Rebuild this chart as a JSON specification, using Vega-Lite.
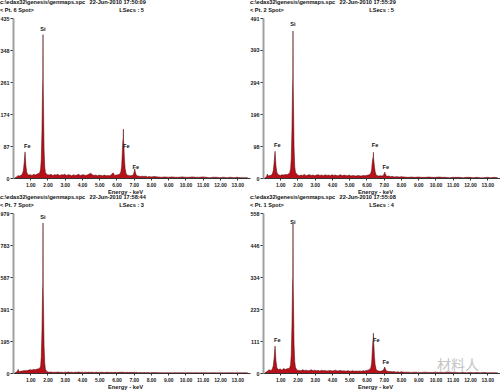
{
  "$schema": "https://vega.github.io/schema/vega-lite/v6.json",
  "padding": 0,
  "spacing": 0,
  "background": "white",
  "config": {
    "view": {"stroke": null},
    "font": "Liberation Sans",
    "title": {"font": "Liberation Sans", "fontSize": 5.6, "fontWeight": "bold", "color": "#111", "subtitleFont": "Liberation Sans", "subtitleFontSize": 5.6, "subtitleFontWeight": "bold", "subtitleColor": "#111", "subtitlePadding": 2.4, "anchor": "start", "frame": "bounds", "offset": 2},
    "axis": {"labelFont": "Liberation Sans", "labelFontWeight": "bold", "labelColor": "#222", "titleFont": "Liberation Sans", "titleFontWeight": "bold", "titleColor": "#222", "grid": false, "labelOverlap": false, "tickCount": 30},
    "axisX": {"format": ".2f", "labelFontSize": 5, "tickSize": 2, "tickColor": "#333", "domainColor": "#333", "domainWidth": 1, "labelPadding": 2, "titleFontSize": 5.8, "titlePadding": 1.5, "titleX": 112, "labelFlush": false},
    "axisY": {"labelFontSize": 5.4, "tickSize": 3, "tickColor": "#333", "domainColor": "#a0a0a0", "domainWidth": 2, "labelPadding": 1, "minExtent": 13, "maxExtent": 13, "title": null}
  },
  "datasets": {
    "s": [
      {"e":0.10,"p1":0,"p2":0,"p3":0,"p4":0},
      {"e":0.20,"p1":3,"p2":4,"p3":6,"p4":4},
      {"e":0.25,"p1":5,"p2":12,"p3":10,"p4":6},
      {"e":0.30,"p1":7,"p2":6,"p3":22,"p4":8},
      {"e":0.35,"p1":5,"p2":7,"p3":8,"p4":12},
      {"e":0.40,"p1":6,"p2":8,"p3":9,"p4":9},
      {"e":0.50,"p1":8,"p2":9,"p3":12,"p4":10},
      {"e":0.55,"p1":12,"p2":14,"p3":13,"p4":16},
      {"e":0.60,"p1":20,"p2":24,"p3":14,"p4":26},
      {"e":0.65,"p1":42,"p2":50,"p3":15,"p4":55},
      {"e":0.68,"p1":62,"p2":72,"p3":14,"p4":82},
      {"e":0.70,"p1":71,"p2":82,"p3":16,"p4":94},
      {"e":0.72,"p1":56,"p2":66,"p3":15,"p4":76},
      {"e":0.75,"p1":32,"p2":38,"p3":14,"p4":44},
      {"e":0.80,"p1":15,"p2":18,"p3":16,"p4":20},
      {"e":0.85,"p1":10,"p2":12,"p3":15,"p4":14},
      {"e":0.90,"p1":8,"p2":10,"p3":18,"p4":12},
      {"e":1.00,"p1":9,"p2":8,"p3":20,"p4":14},
      {"e":1.10,"p1":7,"p2":10,"p3":18,"p4":10},
      {"e":1.20,"p1":10,"p2":9,"p3":22,"p4":16},
      {"e":1.30,"p1":8,"p2":11,"p3":20,"p4":12},
      {"e":1.40,"p1":11,"p2":10,"p3":24,"p4":15},
      {"e":1.50,"p1":12,"p2":13,"p3":26,"p4":16},
      {"e":1.55,"p1":15,"p2":16,"p3":30,"p4":18},
      {"e":1.60,"p1":24,"p2":28,"p3":40,"p4":30},
      {"e":1.64,"p1":50,"p2":60,"p3":100,"p4":65},
      {"e":1.68,"p1":130,"p2":150,"p3":260,"p4":170},
      {"e":1.71,"p1":235,"p2":270,"p3":480,"p4":300},
      {"e":1.73,"p1":272,"p2":308,"p3":547,"p4":340},
      {"e":1.74,"p1":390,"p2":451,"p3":918,"p4":520},
      {"e":1.75,"p1":265,"p2":300,"p3":530,"p4":330},
      {"e":1.77,"p1":190,"p2":220,"p3":400,"p4":240},
      {"e":1.80,"p1":80,"p2":95,"p3":170,"p4":100},
      {"e":1.84,"p1":30,"p2":35,"p3":60,"p4":40},
      {"e":1.88,"p1":15,"p2":18,"p3":22,"p4":20},
      {"e":1.95,"p1":10,"p2":12,"p3":10,"p4":12},
      {"e":2.00,"p1":9,"p2":10,"p3":7,"p4":10},
      {"e":2.10,"p1":8,"p2":7,"p3":5,"p4":9},
      {"e":2.20,"p1":10,"p2":9,"p3":6,"p4":8},
      {"e":2.30,"p1":7,"p2":8,"p3":4,"p4":11},
      {"e":2.40,"p1":9,"p2":11,"p3":5,"p4":9},
      {"e":2.50,"p1":8,"p2":7,"p3":4,"p4":10},
      {"e":2.60,"p1":10,"p2":9,"p3":6,"p4":8},
      {"e":2.70,"p1":7,"p2":10,"p3":4,"p4":9},
      {"e":2.80,"p1":9,"p2":8,"p3":5,"p4":11},
      {"e":2.90,"p1":8,"p2":9,"p3":3,"p4":8},
      {"e":3.00,"p1":10,"p2":7,"p3":5,"p4":10},
      {"e":3.10,"p1":7,"p2":9,"p3":4,"p4":8},
      {"e":3.20,"p1":9,"p2":10,"p3":6,"p4":9},
      {"e":3.30,"p1":8,"p2":8,"p3":4,"p4":7},
      {"e":3.40,"p1":6,"p2":9,"p3":5,"p4":10},
      {"e":3.50,"p1":9,"p2":7,"p3":3,"p4":8},
      {"e":3.60,"p1":7,"p2":10,"p3":5,"p4":9},
      {"e":3.70,"p1":8,"p2":8,"p3":4,"p4":7},
      {"e":3.80,"p1":10,"p2":9,"p3":6,"p4":8},
      {"e":3.90,"p1":7,"p2":7,"p3":4,"p4":9},
      {"e":4.00,"p1":8,"p2":10,"p3":5,"p4":7},
      {"e":4.10,"p1":9,"p2":8,"p3":3,"p4":8},
      {"e":4.20,"p1":7,"p2":9,"p3":5,"p4":10},
      {"e":4.30,"p1":8,"p2":7,"p3":4,"p4":7},
      {"e":4.40,"p1":10,"p2":8,"p3":5,"p4":8},
      {"e":4.50,"p1":13,"p2":10,"p3":4,"p4":9},
      {"e":4.60,"p1":9,"p2":7,"p3":5,"p4":7},
      {"e":4.70,"p1":7,"p2":9,"p3":3,"p4":8},
      {"e":4.80,"p1":8,"p2":8,"p3":5,"p4":6},
      {"e":4.90,"p1":6,"p2":7,"p3":4,"p4":8},
      {"e":5.00,"p1":8,"p2":9,"p3":3,"p4":7},
      {"e":5.10,"p1":7,"p2":6,"p3":5,"p4":6},
      {"e":5.20,"p1":6,"p2":8,"p3":4,"p4":8},
      {"e":5.30,"p1":8,"p2":7,"p3":3,"p4":6},
      {"e":5.40,"p1":6,"p2":6,"p3":4,"p4":7},
      {"e":5.50,"p1":7,"p2":8,"p3":5,"p4":6},
      {"e":5.60,"p1":6,"p2":7,"p3":3,"p4":7},
      {"e":5.70,"p1":9,"p2":6,"p3":4,"p4":6},
      {"e":5.80,"p1":14,"p2":8,"p3":3,"p4":8},
      {"e":5.90,"p1":7,"p2":7,"p3":4,"p4":7},
      {"e":6.00,"p1":8,"p2":8,"p3":3,"p4":9},
      {"e":6.10,"p1":9,"p2":9,"p3":4,"p4":10},
      {"e":6.20,"p1":11,"p2":11,"p3":4,"p4":13},
      {"e":6.25,"p1":16,"p2":15,"p3":5,"p4":18},
      {"e":6.30,"p1":32,"p2":26,"p3":4,"p4":35},
      {"e":6.34,"p1":72,"p2":50,"p3":5,"p4":80},
      {"e":6.37,"p1":102,"p2":62,"p3":4,"p4":112},
      {"e":6.39,"p1":110,"p2":64,"p3":5,"p4":118},
      {"e":6.40,"p1":133,"p2":79,"p3":4,"p4":139},
      {"e":6.41,"p1":102,"p2":60,"p3":5,"p4":110},
      {"e":6.43,"p1":86,"p2":52,"p3":4,"p4":95},
      {"e":6.46,"p1":52,"p2":35,"p3":3,"p4":58},
      {"e":6.50,"p1":26,"p2":20,"p3":4,"p4":30},
      {"e":6.55,"p1":13,"p2":11,"p3":3,"p4":15},
      {"e":6.60,"p1":8,"p2":8,"p3":4,"p4":9},
      {"e":6.70,"p1":7,"p2":6,"p3":3,"p4":7},
      {"e":6.80,"p1":6,"p2":7,"p3":4,"p4":6},
      {"e":6.90,"p1":7,"p2":6,"p3":3,"p4":8},
      {"e":6.98,"p1":9,"p2":8,"p3":4,"p4":10},
      {"e":7.03,"p1":18,"p2":14,"p3":3,"p4":17},
      {"e":7.06,"p1":25,"p2":18,"p3":4,"p4":21},
      {"e":7.09,"p1":16,"p2":12,"p3":3,"p4":15},
      {"e":7.14,"p1":8,"p2":7,"p3":4,"p4":8},
      {"e":7.20,"p1":6,"p2":5,"p3":3,"p4":6},
      {"e":7.30,"p1":5,"p2":6,"p3":2,"p4":5},
      {"e":7.40,"p1":4,"p2":4,"p3":3,"p4":5},
      {"e":7.50,"p1":5,"p2":5,"p3":2,"p4":4},
      {"e":7.60,"p1":4,"p2":3,"p3":3,"p4":5},
      {"e":7.70,"p1":5,"p2":4,"p3":2,"p4":3},
      {"e":7.80,"p1":3,"p2":4,"p3":3,"p4":4},
      {"e":7.90,"p1":4,"p2":3,"p3":2,"p4":3},
      {"e":8.00,"p1":3,"p2":4,"p3":2,"p4":4},
      {"e":8.20,"p1":4,"p2":3,"p3":3,"p4":3},
      {"e":8.40,"p1":3,"p2":2,"p3":2,"p4":3},
      {"e":8.60,"p1":2,"p2":3,"p3":2,"p4":2},
      {"e":8.80,"p1":3,"p2":2,"p3":1,"p4":3},
      {"e":9.00,"p1":2,"p2":3,"p3":2,"p4":2},
      {"e":9.20,"p1":3,"p2":2,"p3":1,"p4":2},
      {"e":9.40,"p1":2,"p2":2,"p3":2,"p4":3},
      {"e":9.60,"p1":2,"p2":3,"p3":1,"p4":2},
      {"e":9.80,"p1":3,"p2":2,"p3":2,"p4":2},
      {"e":10.00,"p1":2,"p2":2,"p3":1,"p4":3},
      {"e":10.20,"p1":2,"p2":3,"p3":2,"p4":2},
      {"e":10.40,"p1":3,"p2":2,"p3":1,"p4":2},
      {"e":10.60,"p1":2,"p2":2,"p3":2,"p4":2},
      {"e":10.80,"p1":2,"p2":1,"p3":1,"p4":3},
      {"e":11.00,"p1":3,"p2":2,"p3":2,"p4":2},
      {"e":11.20,"p1":2,"p2":2,"p3":1,"p4":2},
      {"e":11.40,"p1":1,"p2":2,"p3":1,"p4":1},
      {"e":11.60,"p1":2,"p2":1,"p3":2,"p4":2},
      {"e":11.80,"p1":2,"p2":2,"p3":1,"p4":1},
      {"e":12.00,"p1":1,"p2":2,"p3":1,"p4":2},
      {"e":12.20,"p1":2,"p2":1,"p3":1,"p4":1},
      {"e":12.40,"p1":1,"p2":2,"p3":1,"p4":2},
      {"e":12.60,"p1":2,"p2":1,"p3":2,"p4":1},
      {"e":12.80,"p1":1,"p2":1,"p3":1,"p4":2},
      {"e":13.00,"p1":2,"p2":2,"p3":1,"p4":1},
      {"e":13.20,"p1":1,"p2":1,"p3":1,"p4":1},
      {"e":13.40,"p1":1,"p2":2,"p3":1,"p4":1},
      {"e":13.60,"p1":1,"p2":1,"p3":1,"p4":1}
    ],
    "lab": [
      {"p":1,"e":1.74,"c":405,"t":"Si"},
      {"p":1,"e":0.83,"c":87,"t":"Fe"},
      {"p":1,"e":6.57,"c":87,"t":"Fe"},
      {"p":1,"e":7.12,"c":30,"t":"Fe"},
      {"p":2,"e":1.74,"c":473,"t":"Si"},
      {"p":2,"e":0.83,"c":101,"t":"Fe"},
      {"p":2,"e":6.50,"c":101,"t":"Fe"},
      {"p":2,"e":7.12,"c":34,"t":"Fe"},
      {"p":3,"e":1.74,"c":955,"t":"Si"},
      {"p":4,"e":1.74,"c":527,"t":"Si"},
      {"p":4,"e":0.83,"c":115,"t":"Fe"},
      {"p":4,"e":6.57,"c":115,"t":"Fe"},
      {"p":4,"e":7.12,"c":38,"t":"Fe"}
    ],
    "wm": [{"e":11.3,"c":24,"t":"材料人"}]
  },
  "vconcat": [
    {
      "spacing": 0,
      "hconcat": [
        {
          "width": 237, "height": 160,
          "title": {"text": "c:\\edax32\\genesis\\genmaps.spc \u200222-Jun-2010 17:50:09", "subtitle": "< Pt. 6 Spot>\u2003\u2003\u2003\u2003\u2003\u2003\u2003\u2003\u2003\u2003\u2003\u2003\u2003\u2003\u2003 LSecs : 5"},
          "layer": [
            {"data": {"name": "s"}, "mark": {"type": "area", "color": "#b8101a", "opacity": 1, "line": {"color": "#4a0606", "strokeWidth": 0.5}},
             "encoding": {"x": {"field": "e", "type": "quantitative", "scale": {"domain": [0, 13.74], "nice": false, "zero": false}, "axis": {"title": "Energy - keV", "values": [1,2,3,4,5,6,7,8,9,10,11,12,13], "tickCount": 30}},
                          "y": {"field": "p1", "type": "quantitative", "scale": {"domain": [0, 435], "nice": false}, "axis": {"values": [0, 87, 174, 261, 348, 435], "tickCount": 30}}}},
            {"data": {"name": "lab"}, "transform": [{"filter": "datum.p == 1"}], "mark": {"type": "text", "font": "Liberation Sans", "fontWeight": "bold", "fontSize": 5.6, "color": "#111"},
             "encoding": {"x": {"field": "e", "type": "quantitative"}, "y": {"field": "c", "type": "quantitative"}, "text": {"field": "t"}}}
          ]
        },
        {
          "width": 237, "height": 160,
          "title": {"text": "c:\\edax32\\genesis\\genmaps.spc \u200222-Jun-2010 17:55:29", "subtitle": "< Pt. 2 Spot>\u2003\u2003\u2003\u2003\u2003\u2003\u2003\u2003\u2003\u2003\u2003\u2003\u2003\u2003\u2003 LSecs : 5"},
          "layer": [
            {"data": {"name": "s"}, "mark": {"type": "area", "color": "#b8101a", "opacity": 1, "line": {"color": "#4a0606", "strokeWidth": 0.5}},
             "encoding": {"x": {"field": "e", "type": "quantitative", "scale": {"domain": [0, 13.74], "nice": false, "zero": false}, "axis": {"title": "Energy - keV", "values": [1,2,3,4,5,6,7,8,9,10,11,12,13], "tickCount": 30}},
                          "y": {"field": "p2", "type": "quantitative", "scale": {"domain": [0, 491], "nice": false}, "axis": {"values": [0, 98, 196, 294, 393, 491], "tickCount": 30}}}},
            {"data": {"name": "lab"}, "transform": [{"filter": "datum.p == 2"}], "mark": {"type": "text", "font": "Liberation Sans", "fontWeight": "bold", "fontSize": 5.6, "color": "#111"},
             "encoding": {"x": {"field": "e", "type": "quantitative"}, "y": {"field": "c", "type": "quantitative"}, "text": {"field": "t"}}}
          ]
        }
      ]
    },
    {
      "spacing": 0,
      "hconcat": [
        {
          "width": 237, "height": 160,
          "title": {"text": "c:\\edax32\\genesis\\genmaps.spc \u200222-Jun-2010 17:58:44", "subtitle": "< Pt. 7 Spot>\u2003\u2003\u2003\u2003\u2003\u2003\u2003\u2003\u2003\u2003\u2003\u2003\u2003\u2003\u2003 LSecs : 3"},
          "layer": [
            {"data": {"name": "s"}, "mark": {"type": "area", "color": "#b8101a", "opacity": 1, "line": {"color": "#4a0606", "strokeWidth": 0.5}},
             "encoding": {"x": {"field": "e", "type": "quantitative", "scale": {"domain": [0, 13.74], "nice": false, "zero": false}, "axis": {"title": "Energy - keV", "values": [1,2,3,4,5,6,7,8,9,10,11,12,13], "tickCount": 30}},
                          "y": {"field": "p3", "type": "quantitative", "scale": {"domain": [0, 979], "nice": false}, "axis": {"values": [0, 195, 391, 587, 783, 979], "tickCount": 30}}}},
            {"data": {"name": "lab"}, "transform": [{"filter": "datum.p == 3"}], "mark": {"type": "text", "font": "Liberation Sans", "fontWeight": "bold", "fontSize": 5.6, "color": "#111"},
             "encoding": {"x": {"field": "e", "type": "quantitative"}, "y": {"field": "c", "type": "quantitative"}, "text": {"field": "t"}}}
          ]
        },
        {
          "width": 237, "height": 160,
          "title": {"text": "c:\\edax32\\genesis\\genmaps.spc \u200222-Jun-2010 17:55:08", "subtitle": "< Pt. 1 Spot>\u2003\u2003\u2003\u2003\u2003\u2003\u2003\u2003\u2003\u2003\u2003\u2003\u2003\u2003\u2003 LSecs : 4"},
          "layer": [
            {"data": {"name": "s"}, "mark": {"type": "area", "color": "#b8101a", "opacity": 1, "line": {"color": "#4a0606", "strokeWidth": 0.5}},
             "encoding": {"x": {"field": "e", "type": "quantitative", "scale": {"domain": [0, 13.74], "nice": false, "zero": false}, "axis": {"title": "Energy - keV", "values": [1,2,3,4,5,6,7,8,9,10,11,12,13], "tickCount": 30}},
                          "y": {"field": "p4", "type": "quantitative", "scale": {"domain": [0, 558], "nice": false}, "axis": {"values": [0, 111, 223, 334, 446, 558], "tickCount": 30}}}},
            {"data": {"name": "lab"}, "transform": [{"filter": "datum.p == 4"}], "mark": {"type": "text", "font": "Liberation Sans", "fontWeight": "bold", "fontSize": 5.6, "color": "#111"},
             "encoding": {"x": {"field": "e", "type": "quantitative"}, "y": {"field": "c", "type": "quantitative"}, "text": {"field": "t"}}},
            {"data": {"name": "wm"}, "mark": {"type": "text", "font": "Noto Sans CJK SC", "fontSize": 14, "color": "#c4c4c4"},
             "encoding": {"x": {"field": "e", "type": "quantitative"}, "y": {"field": "c", "type": "quantitative"}, "text": {"field": "t"}}}
          ]
        }
      ]
    }
  ]
}
